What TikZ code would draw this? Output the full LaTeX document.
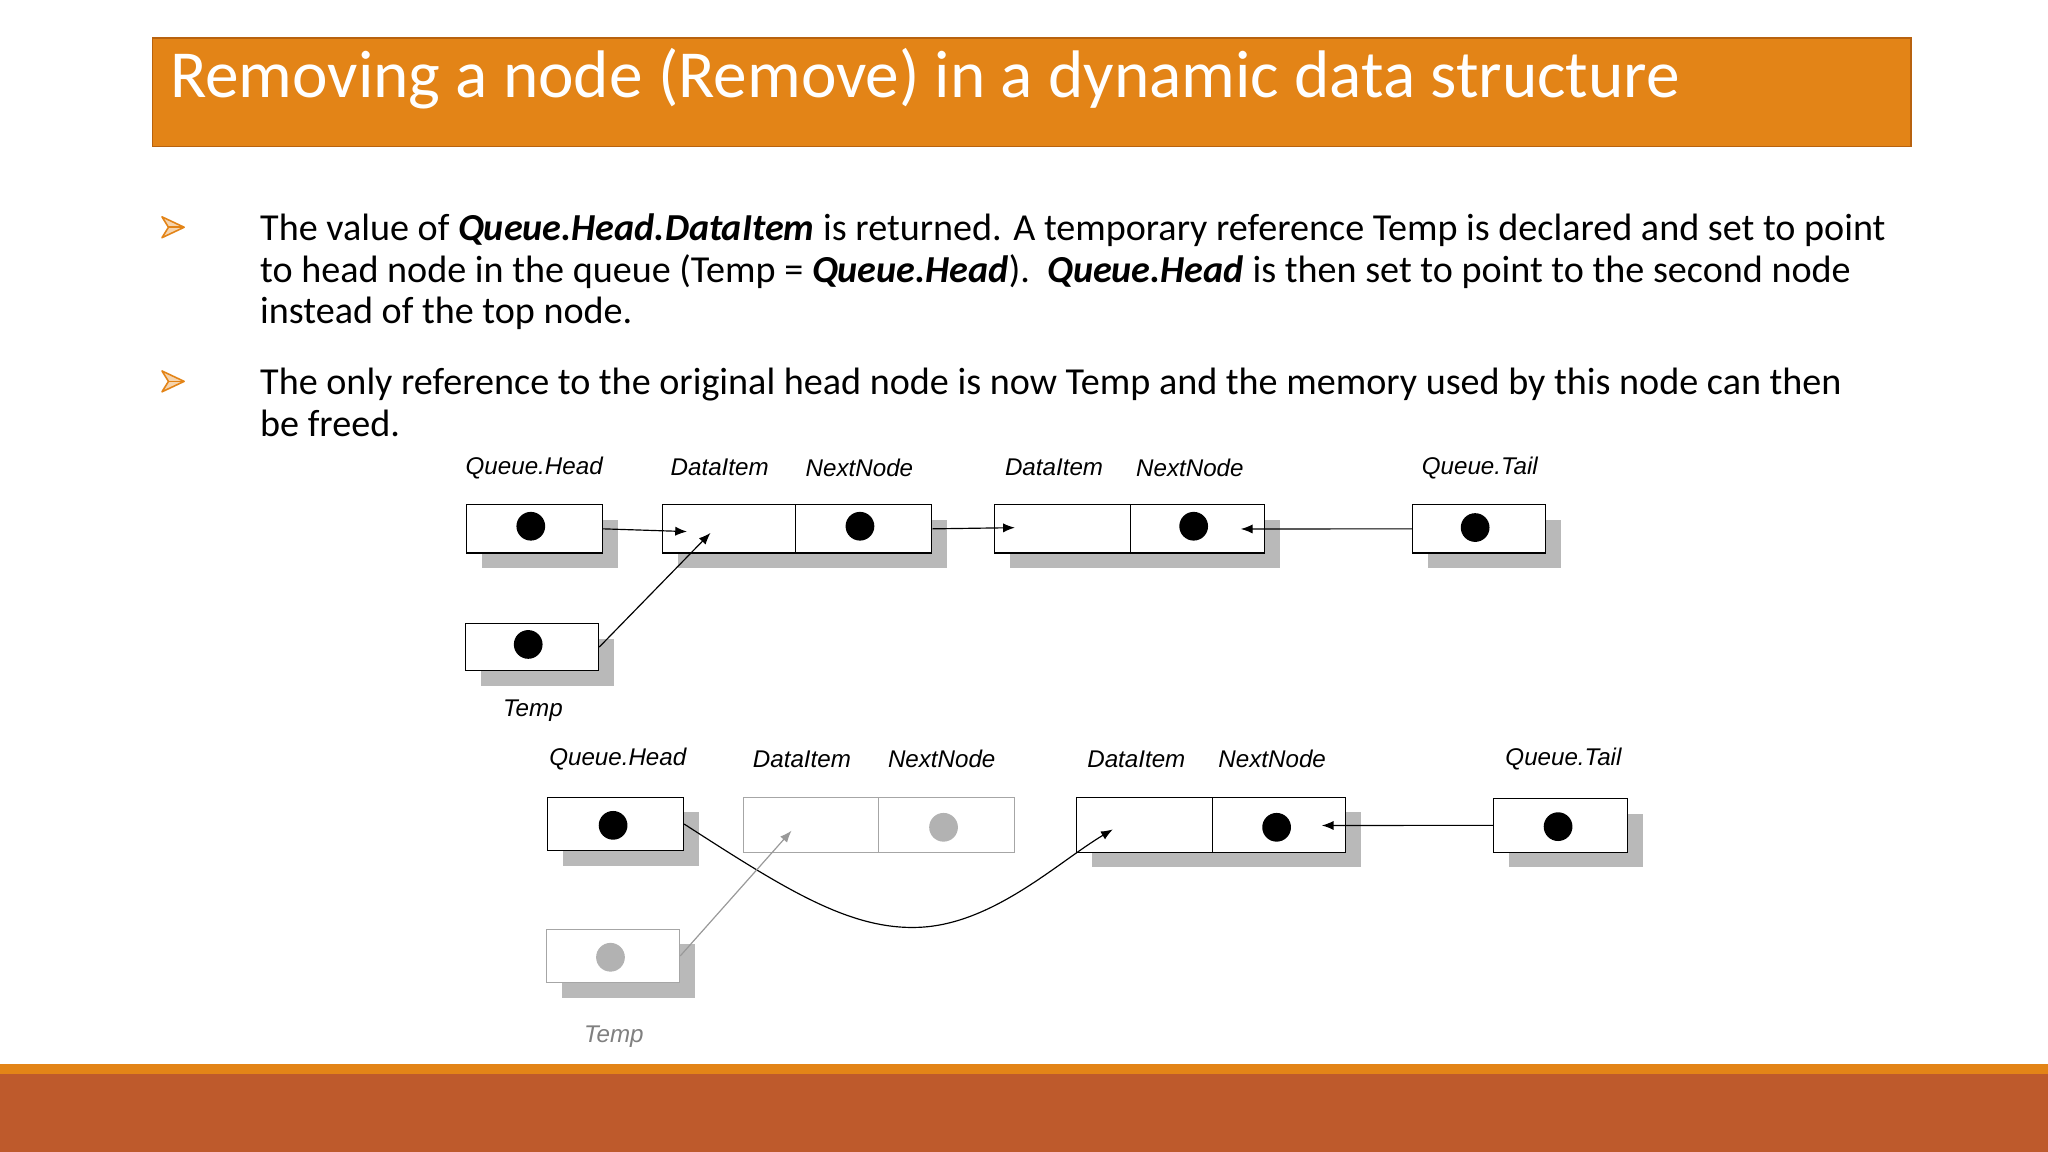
\documentclass[tikz,border=0pt]{standalone}
\usepackage{fontspec}
\setmainfont{Carlito}
\newfontfamily\arialf{Liberation Sans}
\usetikzlibrary{arrows.meta}
\definecolor{ttl}{HTML}{E38417}
\definecolor{ttlb}{HTML}{B8620E}
\definecolor{band}{HTML}{BE5A2C}
\begin{document}
\begin{tikzpicture}[x=1pt,y=-1pt,
 box/.style={draw=black,fill=white,line width=0.8pt,minimum height=37pt,inner sep=0pt,anchor=north west},
 gbox/.style={box,draw=gray!70},
 shd/.style={fill=gray!55},
 dot/.style={circle,fill=black,minimum width=22pt,minimum height=18pt,inner sep=0pt},
 gdot/.style={dot,fill=gray!60},
 lbl/.style={font=\arialf\itshape\fontsize{18.5}{18.5}\selectfont},
 arr/.style={-{Latex[length=9pt,width=7pt]},line width=0.9pt},
 txt/.style={anchor=base west,font=\fontsize{29.2}{29.2}\selectfont,inner sep=0pt},
 bul/.style={fill=ttl!35,draw=ttl,line width=1.2pt,line join=round}]
\useasboundingbox (0,0) rectangle (1568,882);
\fill[white] (0,0) rectangle (1568,882);
% title
\draw[fill=ttl,draw=ttlb,line width=1pt] (117,29) rectangle (1463,112);
\node[anchor=base west,text=white,font=\fontsize{51.5}{51.5}\selectfont,inner sep=0pt] (title) at (130,75) {Removing a node (Remove) in a dynamic data structure};
% bottom band
\fill[ttl] (0,815) rectangle (1568,822);
\fill[band] (0,822) rectangle (1568,882);
% bullets
\foreach \yy in {174,292}{
 \draw[bul] (124,\yy-8) -- (141,\yy) -- (124,\yy+8) -- (129,\yy) -- cycle;
 \draw[ttl,line width=1.2pt] (129,\yy) -- (141,\yy);}
\node[txt] (l1) at (199,184) {The value of \textbf{\textit{Queue.Head.DataItem}} is returned. A temporary reference Temp is declared and set to point};
\node[txt] (l2) at (199,216) {to head node in the queue (Temp = \textbf{\textit{Queue.Head}}).\ \ \textbf{\textit{Queue.Head}} is then set to point to the second node};
\node[txt] (l3) at (199,248) {instead of the top node.};
\node[txt] (l4) at (199,302) {The only reference to the original head node is now Temp and the memory used by this node can then};
\node[txt] (l5) at (199,334) {be freed.};
% ---- top diagram
\fill[shd] (369,398) rectangle (473,435);
\fill[shd] (519,398) rectangle (725,435);
\fill[shd] (773,398) rectangle (980,435);
\fill[shd] (1093,398) rectangle (1195,435);
\fill[shd] (368,489) rectangle (470,525);
\node[box,minimum width=104pt] (h1) at (357,386) {};
\node[box,minimum width=102pt] (a1) at (507,386) {};
\node[box,minimum width=104pt] (a2) at (609,386) {};
\node[box,minimum width=104pt] (b1) at (761,386) {};
\node[box,minimum width=103pt] (b2) at (865,386) {};
\node[box,minimum width=102pt] (t1) at (1081,386) {};
\node[box,minimum width=102pt,minimum height=36pt] (p1) at (356,477) {};
\node[dot] (dh1) at ([xshift=-3pt,yshift=2pt]h1.center) {};
\node[dot] (da2) at ([xshift=-3pt,yshift=2pt]a2.center) {};
\node[dot] (db2) at ([xshift=-3pt,yshift=2pt]b2.center) {};
\node[dot] (dt1) at ([xshift=-3pt,yshift=1pt]t1.center) {};
\node[dot] (dp1) at ([xshift=-3pt,yshift=2pt]p1.center) {};
\node[lbl] (L1) at (409,358) {Queue.Head};
\node[lbl] (L2) at (551,358) {DataItem};
\node[lbl] (L3) at (658,358) {NextNode};
\node[lbl] (L4) at (807,358) {DataItem};
\node[lbl] (L5) at (911,358) {NextNode};
\node[lbl] (L6) at (1133,358) {Queue.Tail};
\node[lbl] (L7) at (408,544) {Temp};
\coordinate (c1) at (526,407);
\coordinate (c2) at (544,408);
\coordinate (c3) at (777,404);
\coordinate (c4) at (950,405);
\draw[arr] (h1.east) -- (c1);
\draw[arr] (p1.east) -- (c2);
\draw[arr] (a2.east) -- (c3);
\draw[arr] (t1.west) -- (c4);
% ---- bottom diagram
\fill[shd] (431,622) rectangle (535,663);
\fill[shd] (836,622) rectangle (1042,664);
\fill[shd] (1155,623) rectangle (1258,664);
\fill[shd] (430,723) rectangle (532,764);
\node[box,minimum width=104pt,minimum height=41pt] (h2) at (419,610) {};
\node[gbox,minimum width=103pt,minimum height=42pt] (a3) at (569,610) {};
\node[gbox,minimum width=104pt,minimum height=42pt] (a4) at (672,610) {};
\node[box,minimum width=104pt,minimum height=42pt] (b3) at (824,610) {};
\node[box,minimum width=102pt,minimum height=42pt] (b4) at (928,610) {};
\node[box,minimum width=103pt,minimum height=41pt] (t2) at (1143,611) {};
\node[gbox,minimum width=102pt,minimum height=41pt] (p2) at (418,711) {};
\node[dot] (dh2) at ([xshift=-2pt,yshift=-1pt]h2.center) {};
\node[gdot] (da4) at ([xshift=-2pt,yshift=-2pt]a4.center) {};
\node[dot] (db4) at ([xshift=-2pt,yshift=-2pt]b4.center) {};
\node[dot] (dt2) at ([xshift=-2pt,yshift=-1pt]t2.center) {};
\node[gdot] (dp2) at ([xshift=-2pt,yshift=-1pt]p2.center) {};
\node[lbl] (M1) at (473,581) {Queue.Head};
\node[lbl] (M2) at (614,581) {DataItem};
\node[lbl] (M3) at (721,581) {NextNode};
\node[lbl] (M4) at (870,581) {DataItem};
\node[lbl] (M5) at (974,581) {NextNode};
\node[lbl] (M6) at (1197,581) {Queue.Tail};
\node[lbl,text=gray] (M7) at (470,794) {Temp};
\coordinate (d1) at (852,635);
\coordinate (d2) at (606,636);
\coordinate (d3) at (1012,632);
\draw[arr] (h2.east) .. controls (600,680) and (650,712) .. (703,710) .. controls (760,708) and (810,660) .. (d1);
\draw[arr,draw=gray!80,fill=gray!80] (p2.east) -- (d2);
\draw[arr] (t2.west) -- (d3);
\end{tikzpicture}
\end{document}
